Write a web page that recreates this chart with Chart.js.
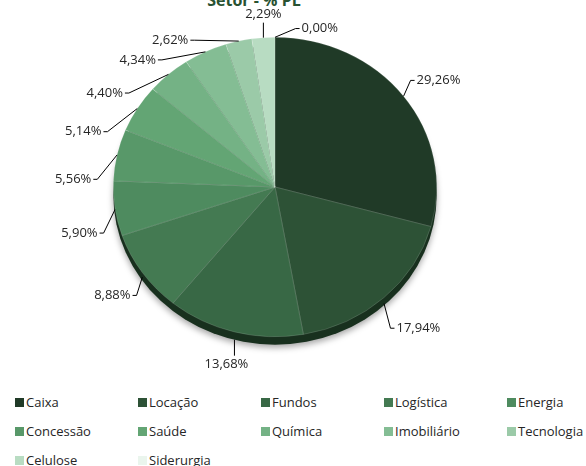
<!DOCTYPE html>
<html>
<head>
<meta charset="utf-8">
<script src="https://cdn.jsdelivr.net/npm/chart.js@4"></script>
<style>
  body { margin: 0; width: 586px; height: 466px; position: relative; overflow: hidden; background: #fff; font-family: "Open Sans", sans-serif; }
  #title { position: absolute; left: 0; top: -11px; width: 508px; text-align: center; font-size: 16px; font-weight: 700; color: #285232; }
  #wrap { position: absolute; left: 0; top: 0; width: 586px; height: 390px; }
  #legend { position: absolute; left: 15px; top: 393px; display: grid; grid-template-columns: repeat(5, 123px); grid-auto-rows: 18px; row-gap: 11px; }
  .item { display: flex; align-items: center; font-size: 13px; color: #262626; white-space: nowrap; }
  .box { width: 9px; height: 9px; margin-right: 2px; flex-shrink: 0; }
</style>
</head>
<body>
<div id="title">Setor - % PL</div>
<div id="wrap"><canvas id="setorChart"></canvas></div>
<div id="legend"></div>
<script>
/* ── Data ── */
const categories = ["Caixa", "Locação", "Fundos", "Logística", "Energia", "Concessão", "Saúde", "Química", "Imobiliário", "Tecnologia", "Celulose", "Siderurgia"];
const shares = [29.26, 17.94, 13.68, 8.88, 5.90, 5.56, 5.14, 4.40, 4.34, 2.62, 2.29, 0.00];

/* ── Colors ── */
const PALETTE = ["#203a27", "#2d5236", "#386845", "#447a52", "#4e8b5f", "#589869", "#63a574", "#74b285", "#84bd94", "#9bcaa8", "#b8dcc2", "#eaf5ed"];
const RIM = "#18301e";
const RIM_DEPTH = 8;
const TILT = 150 / 162;
const LABEL_COLOR = "#262626";

const fmt = (v) => v.toFixed(2).replace(".", ",") + "%";

/* ── Tilted pie with a dark rim ── */
const pieTilt = {
  id: "pieTilt",
  beforeDatasetsDraw(chart) {
    const el = chart.getDatasetMeta(0).data[0];
    const c = chart.ctx;
    c.save();
    c.shadowColor = "rgba(0,0,0,0.35)";
    c.shadowBlur = 6;
    c.shadowOffsetY = 3;
    c.fillStyle = RIM;
    c.beginPath();
    c.ellipse(el.x, el.y + RIM_DEPTH, el.outerRadius, el.outerRadius * TILT, 0, 0, Math.PI * 2);
    c.fill();
    c.restore();
    c.save();
    c.translate(el.x, el.y);
    c.scale(1, TILT);
    c.translate(-el.x, -el.y);
  },
  afterDatasetsDraw(chart) {
    chart.ctx.restore();
  },
};

/* ── Outside labels with leader lines ── */
const leaderLabels = {
  id: "leaderLabels",
  afterDraw(chart) {
    const meta = chart.getDatasetMeta(0);
    const c = chart.ctx;
    const first = meta.data[0];
    const cx = first.x, cy = first.y, R = first.outerRadius;
    const pt = (deg, r) => {
      const a = (deg * Math.PI) / 180;
      const down = -Math.cos(a);
      return {
        x: cx + R * r * Math.sin(a),
        y: cy + R * TILT * r * down + (down > 0 ? RIM_DEPTH * down : 0),
      };
    };
    c.save();
    c.font = "13px 'Open Sans'";
    c.textBaseline = "middle";
    const items = meta.data.map((el, i) => {
      let deg = (((el.startAngle + el.endAngle) / 2 + Math.PI / 2) * 180) / Math.PI;
      deg = ((deg % 360) + 360) % 360;
      if (360 - deg < 0.01) deg = 0;
      const text = fmt(shares[i]);
      const w = c.measureText(text).width;
      const edge = pt(deg, 1);
      let kind, anchor, tx, ty;
      if (deg >= 352) {
        kind = "top";
        anchor = { x: edge.x, y: edge.y - 15 };
        tx = anchor.x - w / 2; ty = anchor.y - 8;
      } else if (deg >= 165 && deg <= 200) {
        kind = "bottom";
        anchor = { x: edge.x, y: edge.y + 16 };
        tx = anchor.x - w / 2 - 8; ty = anchor.y + 9;
      } else if (deg > 200) {
        kind = "left";
        const shift = Math.max(-14, Math.min(-4, -4 - (deg - 235) * 0.12));
        anchor = pt(deg + shift, 1.1);
        tx = anchor.x - 6 - w; ty = anchor.y;
      } else {
        kind = "right";
        anchor = deg < 90 ? pt(deg - 3, 1.1) : pt(deg + 4, 1.15);
        tx = anchor.x + 6; ty = anchor.y;
      }
      return { kind, edge, anchor, tx, ty, w, text };
    });
    /* push right labels away from the top label */
    const top = items.find((it) => it.kind === "top");
    if (top) {
      items.forEach((it) => {
        if (it.kind !== "right") return;
        const overlapY = Math.abs(it.ty - top.ty) < 16;
        const right = top.tx + top.w;
        if (overlapY && it.tx < right + 20) {
          const dx = right + 20 - it.tx;
          it.anchor.x += dx;
          it.anchor.y += 6;
          it.tx += dx;
          it.ty += 6;
        }
      });
    }
    c.strokeStyle = "#000";
    c.lineWidth = 1;
    c.fillStyle = LABEL_COLOR;
    items.forEach((it) => {
      c.beginPath();
      c.moveTo(it.edge.x, it.edge.y);
      c.lineTo(it.anchor.x, it.anchor.y);
      if (it.kind === "left") c.lineTo(it.anchor.x - 4, it.anchor.y);
      if (it.kind === "right") c.lineTo(it.anchor.x + 4, it.anchor.y);
      c.stroke();
      c.textAlign = "left";
      c.fillText(it.text, it.tx, it.ty);
    });
    c.restore();
  },
};

const setorCtx = document.getElementById("setorChart").getContext("2d");
new Chart(setorCtx, {
  type: "pie",
  data: {
    labels: categories,
    datasets: [
      {
        data: shares,
        backgroundColor: PALETTE,
        borderWidth: 0.6,
        borderColor: "rgba(255,255,255,0.25)",
        hoverOffset: 0,
      },
    ],
  },
  options: {
    responsive: true,
    maintainAspectRatio: false,
    animation: false,
    layout: { padding: { left: 100, right: 136, top: 25, bottom: 41 } },
    plugins: {
      legend: { display: false },
      tooltip: { enabled: false },
    },
  },
  plugins: [pieTilt, leaderLabels],
});

/* Custom legend */
document.getElementById("legend").innerHTML = categories
  .map(
    (l, i) => `<div class="item"><span class="box" style="background:${PALETTE[i]}"></span>${l}</div>`,
  )
  .join("");
</script>
</body>
</html>
